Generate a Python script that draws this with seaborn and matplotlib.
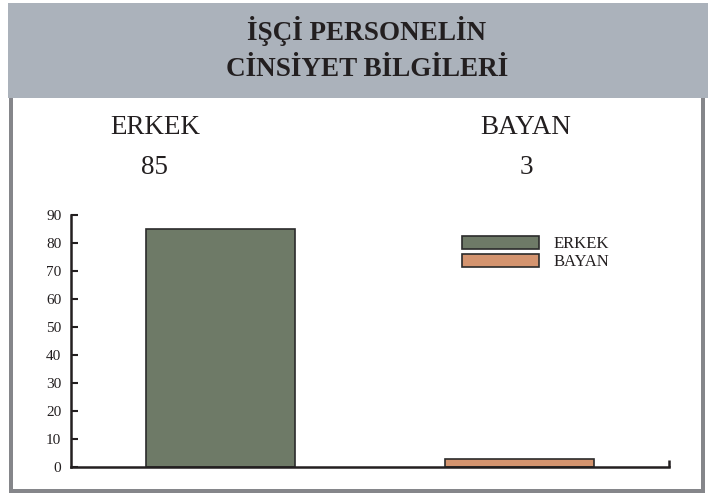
import matplotlib
matplotlib.use("Agg")
import matplotlib.pyplot as plt
from matplotlib.patches import Rectangle
import seaborn as sns
import pandas as pd

# DATA
categories = ["ERKEK", "BAYAN"]
counts = [85, 3]
colors = ["#6e7a67", "#d4946f"]
title_lines = ["İŞÇİ PERSONELİN", "CİNSİYET BİLGİLERİ"]
yticks = [0, 10, 20, 30, 40, 50, 60, 70, 80, 90]

df = pd.DataFrame({"cinsiyet": categories, "sayi": counts})

W, H = 714, 496
sns.set_theme(style="white")
plt.rcParams['font.family'] = ['Liberation Serif', 'DejaVu Serif']

fig = plt.figure(figsize=(W / 100, H / 100), dpi=100)


def fx(px):
    return px / W


def fy(py):
    return 1 - py / H


# frame: grey header band and grey border
fig.add_artist(Rectangle((fx(8), fy(98)), fx(700), 95 / H, transform=fig.transFigure,
                         facecolor="#abb2bb", edgecolor="none", zorder=0))
border = "#85868a"
fig.add_artist(Rectangle((fx(9), fy(493)), fx(3.5), 395 / H, transform=fig.transFigure,
                         facecolor=border, edgecolor="none"))
fig.add_artist(Rectangle((fx(701), fy(493)), fx(4), 395 / H, transform=fig.transFigure,
                         facecolor=border, edgecolor="none"))
fig.add_artist(Rectangle((fx(9), fy(493)), fx(696), 4 / H, transform=fig.transFigure,
                         facecolor=border, edgecolor="none"))

# title
fig.text(fx(367), fy(31), title_lines[0], ha="center", va="center",
         fontsize=19.5, fontweight="bold", color="#231f20")
fig.text(fx(367), fy(70), title_lines[1], ha="center", va="center",
         fontsize=19.5, fontweight="bold", color="#231f20")

# category names and values above the chart
label_x = [155, 526]
for name, val, x in zip(categories, counts, label_x):
    fig.text(fx(x), fy(128), name, ha="center", va="center", fontsize=19.5, color="#231f20")
    fig.text(fx(x), fy(168), str(val), ha="center", va="center", fontsize=19.5, color="#231f20")

# chart
ax = fig.add_axes([fx(71), fy(467), fx(669 - 71), (467 - 215) / H])
sns.barplot(data=df, x="cinsiyet", y="sayi", hue="cinsiyet", palette=colors,
            saturation=1, width=0.5, edgecolor="#2b2b2b", linewidth=1.2,
            legend=False, ax=ax)
ax.set_xlim(-0.5, 1.5)
ax.set_ylim(0, 90)
ax.set_yticks(yticks)
ax.set_xticks([1.5])
ax.set_xticklabels([])
ax.set_xlabel("")
ax.set_ylabel("")
ax.set_facecolor("none")
for side in ["top", "right"]:
    ax.spines[side].set_visible(False)
for side in ["left", "bottom"]:
    ax.spines[side].set_linewidth(1.8)
    ax.spines[side].set_color("#231f20")
ax.tick_params(axis="y", direction="in", length=5, width=1.5, color="#231f20",
               labelsize=11, labelcolor="#231f20", pad=7, left=True)
ax.tick_params(axis="x", direction="in", length=5, width=1.8, color="#231f20", bottom=True)

handles = [ax.patches[0], ax.patches[1]]
ax.legend(handles, categories, loc="upper left", bbox_to_anchor=(fx(462), fy(236)),
          bbox_transform=fig.transFigure, frameon=False, fontsize=12,
          handlelength=4.6, handleheight=0.85, handletextpad=0.9, labelspacing=0.1,
          borderpad=0, borderaxespad=0, labelcolor="#231f20")

fig.savefig("out.png", dpi=100, facecolor="white")
